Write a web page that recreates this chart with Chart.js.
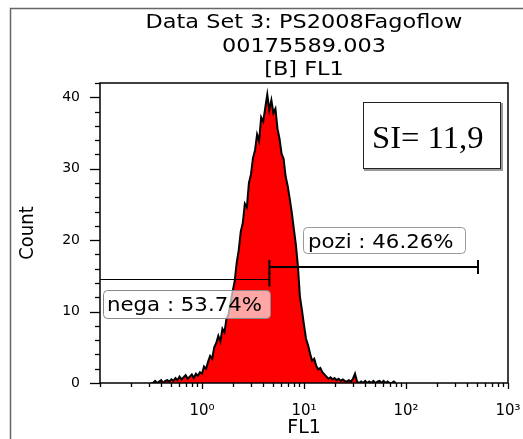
<!DOCTYPE html>
<html>
<head>
<meta charset="utf-8">
<script src="https://cdn.jsdelivr.net/npm/chart.js@4.4.0/dist/chart.umd.min.js"></script>
<style>
  html, body { margin: 0; padding: 0; background: #fff; }
  #wrap { width: 523px; height: 439px; }
</style>
</head>
<body>
<div id="wrap"><canvas id="histChart"></canvas></div>
<script>
// FL1 histogram (flow cytometry), log x axis 10^-1 .. 10^3, 50 channels per decade
const titleLines = ['Data Set 3: PS2008Fagoflow', '00175589.003', '[B] FL1'];
const binStartLog = -0.5;      // log10 of first channel centre
const binsPerDecade = 50;
const counts = [
    0, 0, 0.3, 0, 0.2, 0.4, 0, 0.3, 0.4, 0.2,
    0.5, 0.3, 0.7, 0.4, 0.9, 0.5, 0.8, 1.1, 0.6, 0.9,
    1.2, 0.7, 1.3, 1.0, 1.5, 1.3, 2.3, 2.0, 3.0, 3.8,
    3.4, 5.0, 5.6, 6.6, 5.8, 7.6, 7.1, 9.0, 9.6, 11.2,
    12.8, 14.2, 16.8, 18.6, 21.2, 22.4, 25.1, 24.6, 28.0, 29.2,
    31.5, 32.6, 34.8, 33.9, 37.2, 36.6, 38.5, 40.4, 38.2, 39.6,
    37.8, 38.4, 35.6, 34.2, 32.1, 31.4, 28.9, 27.6, 25.8, 23.9,
    21.6, 19.4, 16.4, 12.1, 10.2, 8.1, 6.2, 5.3, 4.1, 3.1,
    3.4, 2.4, 1.9, 2.1, 1.5, 1.2, 0.9, 0.6, 0.8, 0.5,
    0.7, 0.4, 0.6, 0.3, 0.5, 0.3, 0.2, 0.4, 0.2, 0.6,
    1.3, 0.2, 0, 0.2, 0, 0.3, 0, 0.2, 0, 0.3,
    0, 0.2, 0.3, 0, 0.3, 0, 0.2, 0, 0, 0.2, 0
];

// Axes
const xMin = 0.1, xMax = 1000;
const xDecades = [0.1, 1, 10, 100];
const xDecadeLabels = { 1: '10\u2070', 10: '10\u00B9', 100: '10\u00B2', 1000: '10\u00B3' };
const yMin = 0, yMax = 42;
const yTicks = [0, 10, 20, 30, 40];
const yMinorStep = 2;

// Gates (x range, y level) and their labels
const negaGate = [0.1, 4.58];
const negaLevel = 14.6;
const negaLabel = 'nega : 53.74%';
const poziGate = [4.58, 508];
const poziLevel = 16.2;
const poziLabel = 'pozi : 46.26%';
const siText = 'SI= 11,9';

const xTickValues = [];
xDecades.forEach(d => { for (let m = 1; m <= 9; m++) xTickValues.push(d * m); });
xTickValues.push(xMax);

const points = counts.map((c, i) => ({ x: Math.pow(10, binStartLog + i / binsPerDecade), y: c }));

Chart.defaults.font.family = "'DejaVu Sans', Verdana, sans-serif";
Chart.defaults.color = '#000';

// text drawn a little wider than the font, as in the original export
function wideText(ctx, text, px, py, sx) {
    ctx.save();
    ctx.translate(px, py);
    ctx.scale(sx, 1);
    ctx.fillText(text, 0, 0);
    ctx.restore();
}

function roundBox(ctx, bx, by, bw, bh, r) {
    ctx.beginPath();
    ctx.moveTo(bx + r, by);
    ctx.lineTo(bx + bw - r, by);
    ctx.quadraticCurveTo(bx + bw, by, bx + bw, by + r);
    ctx.lineTo(bx + bw, by + bh - r);
    ctx.quadraticCurveTo(bx + bw, by + bh, bx + bw - r, by + bh);
    ctx.lineTo(bx + r, by + bh);
    ctx.quadraticCurveTo(bx, by + bh, bx, by + bh - r);
    ctx.lineTo(bx, by + r);
    ctx.quadraticCurveTo(bx, by, bx + r, by);
    ctx.closePath();
}

const overlayPlugin = {
    id: 'flowOverlay',
    afterDatasetsDraw(chart) {
        const { ctx, chartArea: a, scales: { x, y } } = chart;

        // plot frame
        ctx.save();
        ctx.strokeStyle = '#000';
        ctx.lineWidth = 1.5;
        ctx.strokeRect(a.left, a.top, a.right - a.left, a.bottom - a.top);

        // y ticks (outside, left)
        ctx.lineWidth = 1.3;
        for (let v = yMin; v <= yMax; v += yMinorStep) {
            const py = Math.round(y.getPixelForValue(v)) + 0.5;
            const len = yTicks.includes(v) ? 10 : 5;
            ctx.beginPath();
            ctx.moveTo(a.left - len, py);
            ctx.lineTo(a.left, py);
            ctx.stroke();
        }
        // x ticks (outside, below)
        xTickValues.forEach(v => {
            const px = Math.round(x.getPixelForValue(v)) + 0.5;
            const len = xDecadeLabels[v] ? 6 : 4;
            ctx.beginPath();
            ctx.moveTo(px, a.bottom);
            ctx.lineTo(px, a.bottom + len);
            ctx.stroke();
        });

        // gates
        const nx1 = x.getPixelForValue(negaGate[0]);
        const nx2 = x.getPixelForValue(negaGate[1]);
        const ny = Math.round(y.getPixelForValue(negaLevel)) + 0.5;
        ctx.lineWidth = 1;
        ctx.beginPath();
        ctx.moveTo(nx1, ny); ctx.lineTo(nx2, ny);
        ctx.stroke();
        ctx.lineWidth = 2;
        ctx.beginPath();
        ctx.moveTo(nx2, ny - 7); ctx.lineTo(nx2, ny + 7);
        ctx.stroke();

        const px1 = x.getPixelForValue(poziGate[0]);
        const px2 = x.getPixelForValue(poziGate[1]);
        const py = Math.round(y.getPixelForValue(poziLevel));
        ctx.lineWidth = 2;
        ctx.beginPath();
        ctx.moveTo(px1, py); ctx.lineTo(px2, py);
        ctx.moveTo(px1, py - 7); ctx.lineTo(px1, py + 7);
        ctx.moveTo(px2, py - 7); ctx.lineTo(px2, py + 7);
        ctx.stroke();

        // gate labels
        ctx.font = "19px 'DejaVu Sans', Verdana, sans-serif";
        ctx.textAlign = 'left';
        ctx.textBaseline = 'alphabetic';
        ctx.lineWidth = 1;

        roundBox(ctx, 303.5, 227.5, 162, 26, 4);
        ctx.fillStyle = '#fff';
        ctx.fill();
        ctx.strokeStyle = '#999';
        ctx.stroke();
        ctx.fillStyle = '#000';
        wideText(ctx, poziLabel, 308, 248, 1.12);

        roundBox(ctx, 103.5, 290.5, 167, 28, 4);
        ctx.fillStyle = 'rgba(255,255,255,0.65)';
        ctx.fill();
        ctx.strokeStyle = '#888';
        ctx.stroke();
        ctx.fillStyle = '#000';
        wideText(ctx, negaLabel, 107, 311, 1.12);
        ctx.restore();
    },
    afterDraw(chart) {
        const { ctx, chartArea: a } = chart;
        ctx.save();
        // outer figure frame
        ctx.strokeStyle = '#666';
        ctx.lineWidth = 1.5;
        ctx.beginPath();
        ctx.moveTo(10.5, 439);
        ctx.lineTo(10.5, 8.5);
        ctx.lineTo(523, 8.5);
        ctx.stroke();

        // title
        ctx.fillStyle = '#000';
        ctx.font = "20px 'DejaVu Sans', Verdana, sans-serif";
        ctx.textAlign = 'center';
        ctx.textBaseline = 'alphabetic';
        const cx = (a.left + a.right) / 2;
        titleLines.forEach((t, i) => wideText(ctx, t, cx, 28 + i * 23.5, 1.12));

        // SI box
        ctx.fillStyle = '#fff';
        ctx.fillRect(363, 102, 138, 67);
        ctx.strokeStyle = '#222';
        ctx.lineWidth = 1;
        ctx.strokeRect(363.5, 102.5, 137, 66);
        ctx.strokeStyle = '#999';
        ctx.lineWidth = 2;
        ctx.beginPath();
        ctx.moveTo(364, 170); ctx.lineTo(502, 170); ctx.lineTo(502, 103);
        ctx.stroke();
        ctx.fillStyle = '#000';
        ctx.font = "32px 'Liberation Serif', 'Times New Roman', serif";
        ctx.textAlign = 'left';
        wideText(ctx, siText, 372, 148, 1.02);
        ctx.restore();
    }
};

new Chart(document.getElementById('histChart'), {
    type: 'line',
    data: {
        datasets: [{
            data: points,
            borderColor: '#000',
            borderWidth: 2,
            backgroundColor: '#ff0000',
            fill: 'origin',
            pointRadius: 0,
            tension: 0
        }]
    },
    options: {
        responsive: true,
        maintainAspectRatio: false,
        animation: false,
        layout: { padding: { top: 83, right: 15, left: 0, bottom: 0 } },
        plugins: {
            legend: { display: false },
            tooltip: { enabled: false },
            title: { display: false }
        },
        scales: {
            x: {
                type: 'logarithmic',
                min: xMin,
                max: xMax,
                afterBuildTicks: s => { s.ticks = xTickValues.map(v => ({ value: v, major: !!xDecadeLabels[v] })); },
                afterFit: s => { s.height = 56; s.paddingLeft = 0; s.paddingRight = 0; },
                grid: { display: false },
                border: { display: false },
                ticks: {
                    autoSkip: false,
                    maxRotation: 0,
                    padding: 11,
                    font: { size: 15 },
                    callback: v => xDecadeLabels[v] || ''
                },
                title: { display: true, text: 'FL1', font: { size: 19 }, padding: { top: 0, bottom: 0 } }
            },
            y: {
                type: 'linear',
                min: yMin,
                max: yMax,
                afterBuildTicks: s => { s.ticks = yTicks.map(v => ({ value: v })); },
                afterFit: s => { s.width = 100; s.paddingTop = 0; s.paddingBottom = 0; },
                grid: { display: false },
                border: { display: false },
                ticks: { padding: 12, font: { size: 14 } },
                title: {
                    display: true,
                    text: 'Count',
                    font: { size: 20, family: "'DejaVu Sans Condensed', 'DejaVu Sans', sans-serif" },
                    padding: { top: 16, bottom: 16 }
                }
            }
        }
    },
    plugins: [overlayPlugin]
});
</script>
</body>
</html>
